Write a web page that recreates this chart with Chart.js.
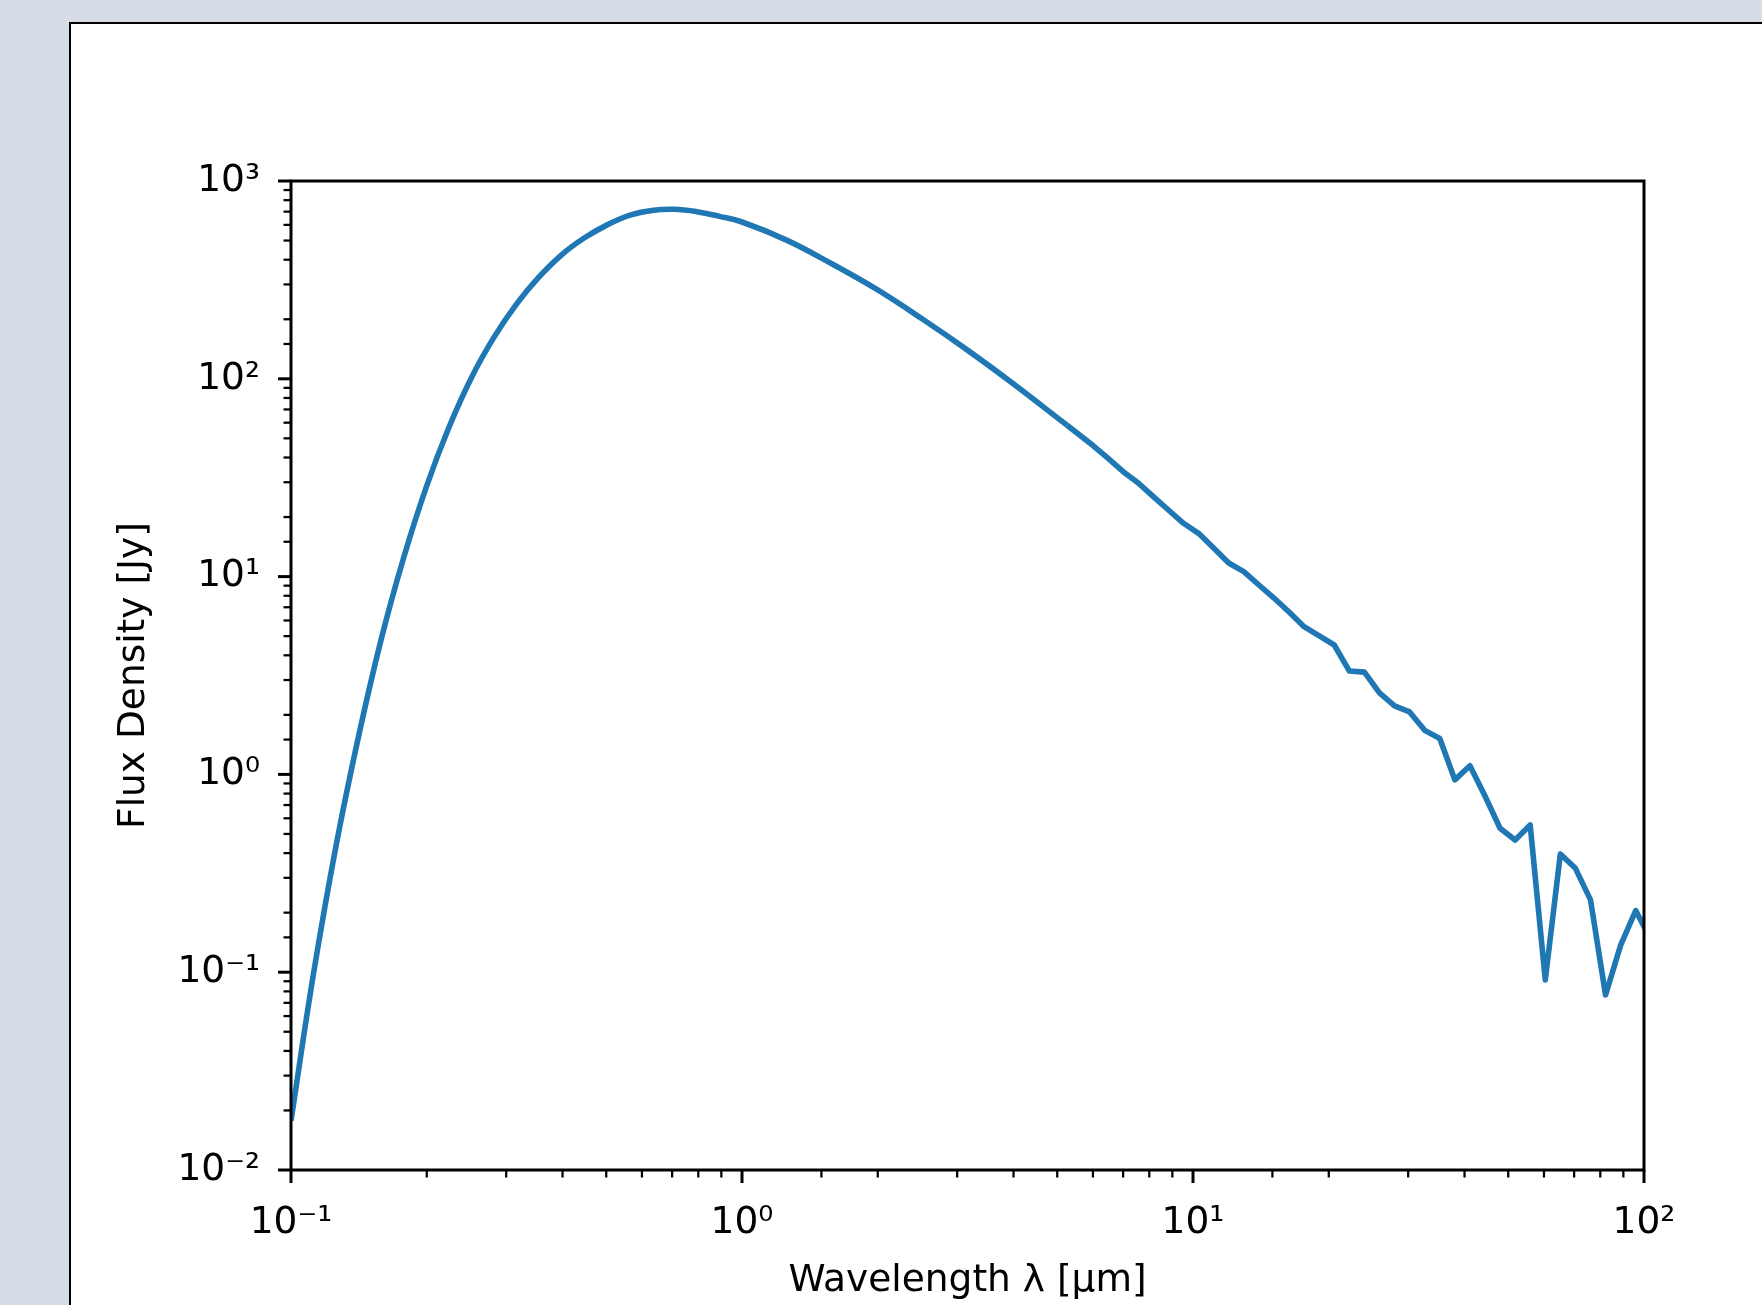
<!DOCTYPE html>
<html>
<head>
<meta charset="utf-8">
<script src="https://cdn.jsdelivr.net/npm/chart.js@4.4.1/dist/chart.umd.min.js"></script>
<style>
  body { margin: 0; background: #d6dde7; overflow: hidden; }
  #panel { position: absolute; left: 69px; top: 22px; width: 1800px; height: 1400px; background: #fff; border: 2px solid #000; }
  #chart { position: absolute; left: 0; top: 0; }
</style>
</head>
<body>
<div id="panel"></div>
<canvas id="chart" width="1762" height="1305"></canvas>
<script>
// smooth part of the spectrum (wavelength in um, flux in Jy)
const smoothWavelength = [0.1, 0.1122, 0.1259, 0.1413, 0.1585, 0.1778, 0.1995, 0.2239, 0.2512, 0.2818,
    0.3162, 0.3548, 0.3981, 0.4467, 0.5012, 0.5623, 0.631, 0.708, 0.7943, 0.8913,
    1.0, 1.259, 1.585, 1.995, 2.512, 3.162, 3.981, 5.248];
const smoothFlux = [0.01775, 0.0986, 0.4375, 1.570, 4.824, 12.49, 28.35, 56.7, 101.3, 161.9,
    238.4, 327.2, 423.7, 514.9, 598.3, 670.7, 710.0, 719.3, 699.4, 662.4,
    620.4, 501.2, 380.5, 282.2, 200.5, 139.6, 94.9, 58.4];

// noisy tail, one value per sample
const tailWavelength = [5.248, 6.003, 6.484, 7.002, 7.562, 8.168, 8.820, 9.527, 10.29, 11.11,
    12.00, 12.96, 14.00, 15.12, 16.33, 17.63, 19.05, 20.57, 22.22, 23.99,
    25.91, 27.98, 30.22, 32.64, 35.25, 38.07, 41.12, 44.40, 47.95, 51.79,
    55.93, 60.41, 65.24, 70.46, 76.10, 82.18, 88.76, 95.86, 103.5];
const tailFlux = [58.4, 46.0, 39.55, 33.90, 29.73, 25.35, 21.71, 18.60, 16.55, 13.95,
    11.72, 10.59, 9.07, 7.79, 6.62, 5.58, 5.01, 4.51, 3.33, 3.29,
    2.58, 2.22, 2.07, 1.67, 1.52, 0.938, 1.107, 0.778, 0.534, 0.466,
    0.555, 0.0913, 0.396, 0.335, 0.232, 0.0767, 0.137, 0.205, 0.146];

// labelled decades on each axis
const xDecades = [-1, 0, 1, 2];
const yDecades = [-2, -1, 0, 1, 2, 3];

const sup = { '-': '\u207B', '0': '\u2070', '1': '\u00B9', '2': '\u00B2', '3': '\u00B3' };

function isDecade(v) {
    const e = Math.log10(v);
    return Math.abs(e - Math.round(e)) < 1e-6;
}

function decadeLabel(v, decades) {
    if (!isDecade(v)) return '';
    const e = Math.round(Math.log10(v));
    if (!decades.includes(e)) return '';
    return '10' + String(e).split('').map(c => sup[c]).join('');
}

// tick marks (long major, short minor) and the box round the plot
const axisFrame = {
    id: 'axisFrame',
    afterDraw(chart) {
        const { ctx, chartArea: a, scales } = chart;
        ctx.save();
        ctx.strokeStyle = '#000';
        scales.x.ticks.forEach(t => {
            const major = isDecade(t.value);
            const px = scales.x.getPixelForValue(t.value);
            ctx.lineWidth = major ? 3 : 2.25;
            ctx.beginPath();
            ctx.moveTo(px, a.bottom);
            ctx.lineTo(px, a.bottom + (major ? 13 : 7.5));
            ctx.stroke();
        });
        scales.y.ticks.forEach(t => {
            const major = isDecade(t.value);
            const py = scales.y.getPixelForValue(t.value);
            ctx.lineWidth = major ? 3 : 2.25;
            ctx.beginPath();
            ctx.moveTo(a.left, py);
            ctx.lineTo(a.left - (major ? 13 : 7.5), py);
            ctx.stroke();
        });
        ctx.lineWidth = 3;
        ctx.strokeRect(a.left, a.top, a.right - a.left, a.bottom - a.top);
        ctx.restore();
    }
};

Chart.defaults.font.family = 'DejaVu Sans';
Chart.defaults.font.size = 37.5;
Chart.defaults.color = '#000';

new Chart(document.getElementById('chart'), {
    type: 'line',
    data: {
        datasets: [{
            data: smoothWavelength.map((w, i) => ({ x: w, y: smoothFlux[i] })),
            borderColor: '#1f77b4',
            borderWidth: 5.6,
            borderJoinStyle: 'round',
            tension: 0.4,
            pointRadius: 0,
            clip: 0
        }, {
            data: tailWavelength.map((w, i) => ({ x: w, y: tailFlux[i] })),
            borderColor: '#1f77b4',
            borderWidth: 5.6,
            borderJoinStyle: 'round',
            tension: 0,
            pointRadius: 0,
            clip: 0
        }]
    },
    options: {
        responsive: false,
        animation: false,
        layout: { padding: { left: 0, top: 181, right: 118, bottom: 0 } },
        plugins: { legend: { display: false }, tooltip: { enabled: false } },
        scales: {
            x: {
                type: 'logarithmic',
                min: 0.1,
                max: 100,
                grid: { display: false, drawTicks: false },
                border: { display: false },
                ticks: { autoSkip: false, maxRotation: 0, padding: 30.5, callback: v => decadeLabel(v, xDecades) },
                title: { display: true, text: 'Wavelength \u03BB [\u03BCm]', padding: { top: 0, bottom: 1.5 } },
                afterFit: s => { s.height = 135; s.paddingLeft = 0; s.paddingRight = 0; }
            },
            y: {
                type: 'logarithmic',
                min: 0.01,
                max: 1000,
                grid: { display: false, drawTicks: false },
                border: { display: false },
                ticks: { autoSkip: false, padding: 31, callback: v => decadeLabel(v, yDecades) },
                title: { display: true, text: 'Flux Density [Jy]', padding: { top: 111.5, bottom: 0 } },
                afterFit: s => { s.width = 291; s.paddingTop = 0; s.paddingBottom = 0; }
            }
        }
    },
    plugins: [axisFrame]
});
</script>
</body>
</html>
